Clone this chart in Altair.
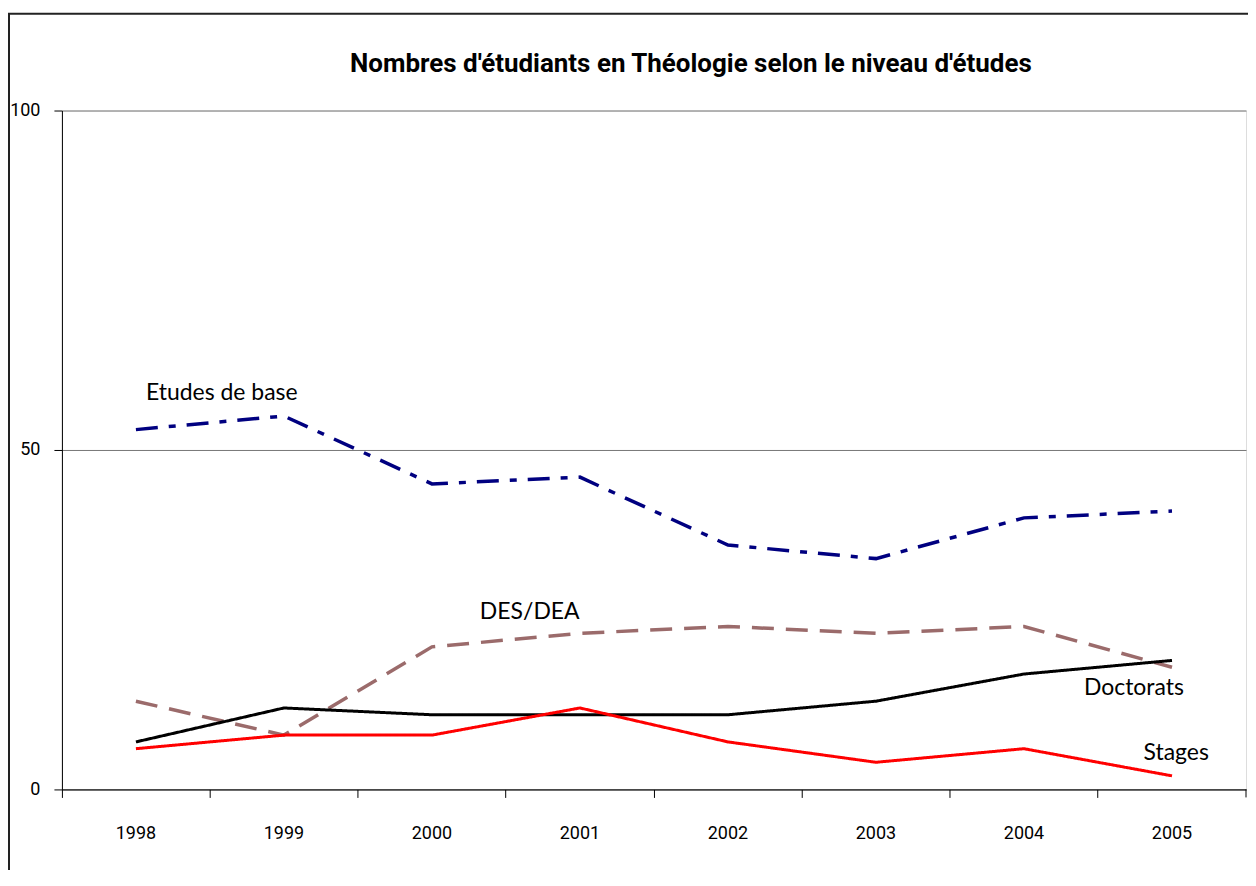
import altair as alt
import pandas as pd

years = ["1998", "1999", "2000", "2001", "2002", "2003", "2004", "2005"]
etudes = [53, 55, 45, 46, 36, 34, 40, 41]
des_dea = [13, 8, 21, 23, 24, 23, 24, 18]
doctorats = [7, 12, 11, 11, 11, 13, 17, 19]
stages = [6, 8, 8, 12, 7, 4, 6, 2]

series_names = ["Etudes de base", "DES/DEA", "Doctorats", "Stages"]
series_values = [etudes, des_dea, doctorats, stages]
series_colors = ["#000080", "#9b6b6b", "#000000", "#ff0000"]
series_dash = [[22, 11, 7, 11], [22, 12], [1, 0], [1, 0]]
series_width = [3.5, 3.5, 3, 3]

title_text = "Nombres d'étudiants en Théologie selon le niveau d'études"
cond_font = "Roboto"
label_font = "Lato"

W, H = 1186, 680

x_enc = alt.X(
    "annee:O",
    scale=alt.Scale(type="band", domain=years, paddingInner=0, paddingOuter=0),
    axis=alt.Axis(
        title=None, labelAngle=0, bandPosition=0, tickSize=8, labelPadding=27,
        domainColor="black", tickColor="black", labelColor="black",
        labelFont=cond_font, labelFontSize=18, grid=False,
    ),
)
y_enc = alt.Y(
    "valeur:Q",
    scale=alt.Scale(domain=[0, 100], nice=False, zero=True),
    axis=alt.Axis(
        title=None, values=[0, 50, 100], grid=True, gridColor="#777777",
        gridWidth=1, tickSize=8, labelPadding=14, domainColor="black",
        tickColor="black", labelColor="black", labelFont=cond_font,
        labelFontSize=18,
    ),
)

layers = []

frame = alt.Chart(alt.Data(values=[{}])).mark_rect(
    fill="white", fillOpacity=0, stroke="#222222", strokeWidth=2
).encode(
    x=alt.value(-53), x2=alt.value(W + 200),
    y=alt.value(-97), y2=alt.value(H + 300),
)
layers.append(frame)

for name, vals, col, dash, sw in zip(series_names, series_values, series_colors,
                                     series_dash, series_width):
    df = pd.DataFrame({"annee": years, "valeur": vals, "serie": name})
    line = alt.Chart(df).mark_line(
        color=col, strokeDash=dash, strokeWidth=sw
    ).encode(x=x_enc, y=y_enc)
    layers.append(line)

# series name labels, anchored on a point of their series
label_specs = [
    ("Etudes de base", "1998", etudes[0], "left", 10, -37),
    ("DES/DEA", "2000", des_dea[2], "left", 48, -35),
    ("Doctorats", "2005", doctorats[7], "right", 12, 28),
    ("Stages", "2005", stages[7], "right", 37, -23),
]
for text, yr, v, al, dx, dy in label_specs:
    ldf = pd.DataFrame({"annee": [yr], "valeur": [v], "texte": [text]})
    t = alt.Chart(ldf).mark_text(
        align=al, baseline="middle", dx=dx, dy=dy, font=label_font,
        fontSize=23, color="black"
    ).encode(x=x_enc, y=y_enc, text="texte:N")
    layers.append(t)

right_tick = alt.Chart(alt.Data(values=[{}])).mark_rule(
    color="black", strokeWidth=1
).encode(x=alt.value(W), y=alt.value(H), y2=alt.value(H + 8))
layers.append(right_tick)

chart = alt.layer(*layers).properties(
    width=W, height=H,
    title=alt.Title(
        title_text, font=cond_font, fontSize=26, fontWeight="bold",
        color="black", anchor="middle", dx=37, offset=0, dy=64,
    ),
    autosize=alt.AutoSizeParams(type="none"),
    padding={"left": 54, "top": 102, "right": 2, "bottom": 80},
).configure_view(
    stroke="#888888", strokeWidth=1.5
).configure(background="white")

chart.save("out.html", embed_options={"renderer": "svg", "actions": False})
